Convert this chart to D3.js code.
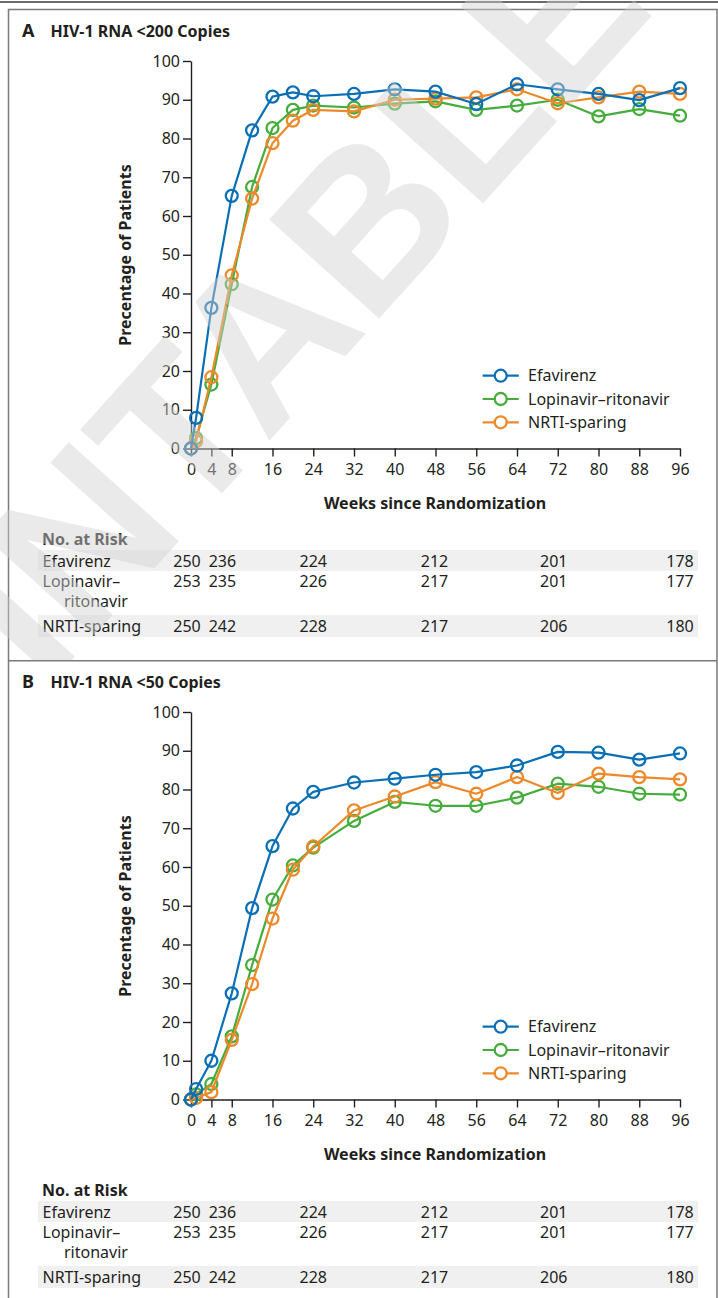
<!DOCTYPE html>
<html>
<head>
<meta charset="utf-8">
<script src="https://cdn.jsdelivr.net/npm/d3@7"></script>
<style>
  body { margin: 0; background: #fff; }
  svg { display: block; font-family: "Noto Sans", sans-serif; }
</style>
</head>
<body>
<svg id="chart" width="718" height="1298"></svg>
<script>
// 측정 주차
const weeks = [0, 1, 4, 8, 12, 16, 20, 24, 32, 40, 48, 56, 64, 72, 80, 88, 96];
const seriesNames = ["Efavirenz", "Lopinavir–ritonavir", "NRTI-sparing"];
const seriesColors = ["#0b6fb5", "#46ad3d", "#ec8a2b"];

// A: HIV-1 RNA <200 copies
const a200Efv  = [0, 7.9, 36.3, 65.2, 82.1, 90.8, 91.9, 90.9, 91.5, 92.7, 92.1, 88.9, 94.0, 92.7, 91.5, 89.9, 93.0];
const a200Lpv  = [0, 2.7, 16.5, 42.4, 67.5, 82.7, 87.4, 88.5, 88.0, 89.0, 89.6, 87.4, 88.5, 90.0, 85.7, 87.6, 85.9];
const a200Nrti = [0, 1.9, 18.4, 44.7, 64.5, 78.8, 84.6, 87.4, 87.0, 90.0, 90.3, 90.6, 92.7, 89.1, 90.6, 92.1, 91.5];

// B: HIV-1 RNA <50 copies
const b50Efv  = [0, 2.7, 10.0, 27.4, 49.4, 65.4, 75.1, 79.4, 81.8, 82.8, 83.8, 84.5, 86.2, 89.7, 89.5, 87.7, 89.3];
const b50Lpv  = [0, 1.3, 4.0, 16.3, 34.7, 51.6, 60.4, 65.0, 71.9, 76.8, 75.8, 75.8, 77.9, 81.5, 80.7, 78.9, 78.7];
const b50Nrti = [0, 0.4, 1.9, 15.4, 29.8, 46.7, 59.3, 65.3, 74.6, 78.2, 81.9, 78.9, 83.2, 79.1, 84.1, 83.2, 82.6];

const xTicks = [0, 4, 8, 16, 24, 32, 40, 48, 56, 64, 72, 80, 88, 96];
const yTicks = [0, 10, 20, 30, 40, 50, 60, 70, 80, 90, 100];

// No. at Risk
const riskWeeks = [0, 4, 24, 48, 72, 96];
const riskEfv  = [250, 236, 224, 212, 201, 178];
const riskLpv  = [253, 235, 226, 217, 201, 177];
const riskNrti = [250, 242, 228, 217, 206, 180];

const panels = [
  { letter: "A", title: "HIV-1 RNA <200 Copies", series: [a200Efv, a200Lpv, a200Nrti], top: 0 },
  { letter: "B", title: "HIV-1 RNA <50 Copies", series: [b50Efv, b50Lpv, b50Nrti], top: 651 },
];

const ink = "#231f20";
const svg = d3.select("#chart");
const x = d3.scaleLinear().domain([0, 96]).range([191, 680]);
const riskDx = [-4, 11, 0, -1, -4, 0]; // 표 숫자 겹침 방지용 살짝 이동

// 프레임
svg.append("line").attr("x1", 0).attr("x2", 718).attr("y1", 2).attr("y2", 2)
  .attr("stroke", "#3a3a3a").attr("stroke-width", 1.6);
const frame = svg.append("g").attr("fill", "none").attr("stroke", "#7a7a7a").attr("stroke-width", 1.5);
frame.append("path").attr("d", "M8.5,1298V9.5H717V1298");
frame.append("line").attr("x1", 8).attr("x2", 717).attr("y1", 660.7).attr("y2", 660.7);

function drawPanel(p) {
  const g = svg.append("g").attr("transform", `translate(0,${p.top})`);
  const y = d3.scaleLinear().domain([0, 100]).range([448.5, 61]);

  // 제목
  g.append("text").attr("x", 22).attr("y", 36.7).attr("font-size", 18).attr("font-weight", 700)
    .attr("fill", ink).text(p.letter);
  g.append("text").attr("x", 50.5).attr("y", 36.7).attr("font-size", 16).attr("font-weight", 700)
    .attr("fill", ink).text(p.title);

  // 축
  const yAxis = g.append("g").attr("transform", `translate(${x(0)},0)`)
    .call(d3.axisLeft(y).tickValues(yTicks).tickSize(8).tickPadding(3).tickSizeOuter(0));
  const xAxis = g.append("g").attr("transform", `translate(0,${y(0)})`)
    .call(d3.axisBottom(x).tickValues(xTicks).tickSize(8).tickPadding(7).tickSizeOuter(0));
  [yAxis, xAxis].forEach((a) => {
    a.select(".domain").attr("stroke", ink).attr("stroke-width", 1.4);
    a.selectAll(".tick line").attr("stroke", ink).attr("stroke-width", 1.4);
    a.selectAll(".tick text").attr("fill", ink).attr("font-size", 16)
      .attr("font-family", "'Noto Sans', sans-serif");
  });

  g.append("text").attr("transform", "translate(131,255) rotate(-90)").attr("text-anchor", "middle")
    .attr("font-size", 16).attr("font-weight", 700).attr("fill", ink).text("Precentage of Patients");
  g.append("text").attr("x", 435).attr("y", 509).attr("text-anchor", "middle")
    .attr("font-size", 16).attr("font-weight", 700).attr("fill", ink).text("Weeks since Randomization");

  // 선 + 원 (녹색, 주황, 파랑 순서로 그림)
  const line = d3.line().x((d, i) => x(weeks[i])).y((d) => y(d));
  [1, 2, 0].forEach((s) => {
    const vals = p.series[s];
    const sg = g.append("g");
    sg.append("path").datum(vals).attr("d", line).attr("fill", "none")
      .attr("stroke", seriesColors[s]).attr("stroke-width", 2.2).attr("stroke-linejoin", "round");
    sg.selectAll("circle").data(vals).join("circle")
      .attr("cx", (d, i) => x(weeks[i])).attr("cy", (d) => y(d)).attr("r", 6)
      .attr("fill", "none").attr("stroke", seriesColors[s]).attr("stroke-width", 2.3);
  });

  // 범례
  const leg = g.append("g");
  seriesNames.forEach((name, i) => {
    const ly = 375.7 + i * 23.3;
    leg.append("line").attr("x1", 482.6).attr("x2", 518.8).attr("y1", ly).attr("y2", ly)
      .attr("stroke", seriesColors[i]).attr("stroke-width", 2.2);
    leg.append("circle").attr("cx", 500.7).attr("cy", ly).attr("r", 6)
      .attr("fill", "#fff").attr("stroke", seriesColors[i]).attr("stroke-width", 2.3);
    leg.append("text").attr("x", 528).attr("y", ly + 5.7).attr("font-size", 16)
      .attr("fill", ink).text(name);
  });

  // No. at Risk 표
  const t = g.append("g").attr("fill", ink).attr("font-size", 16);
  t.append("text").attr("x", 42).attr("y", 545).attr("font-weight", 700).text("No. at Risk");
  t.append("rect").attr("x", 38).attr("y", 550).attr("width", 660).attr("height", 21).attr("fill", "#f0f0f0");
  t.append("rect").attr("x", 38).attr("y", 615).attr("width", 660).attr("height", 22).attr("fill", "#f0f0f0");
  const rows = [
    { label: ["Efavirenz"], vals: riskEfv, base: 567.4 },
    { label: ["Lopinavir–", "ritonavir"], vals: riskLpv, base: 587.4 },
    { label: ["NRTI-sparing"], vals: riskNrti, base: 631.7 },
  ];
  rows.forEach((r) => {
    r.label.forEach((l, k) => {
      t.append("text").attr("x", k ? 64 : 42.5).attr("y", r.base + k * 20).text(l);
    });
    t.selectAll(null).data(r.vals).join("text")
      .attr("x", (d, i) => x(riskWeeks[i]) + riskDx[i]).attr("y", r.base)
      .attr("text-anchor", "middle").text((d) => d);
  });
}

panels.forEach(drawPanel);

// 워터마크 (반투명, 패널 A 위에만 덮음)
svg.append("clipPath").attr("id", "wm-clip")
  .append("rect").attr("x", 0).attr("y", 0).attr("width", 718).attr("height", 660);
svg.append("g").attr("clip-path", "url(#wm-clip)")
  .append("text")
  .attr("transform", "translate(251,461) rotate(-48)")
  .attr("text-anchor", "middle")
  .attr("font-size", 215).attr("font-weight", 700)
  .attr("font-family", "'Liberation Sans', Arial, sans-serif")
  .attr("fill", "#d0d0d0").attr("fill-opacity", 0.45)
  .text("PRINTABLE");
</script>
</body>
</html>
